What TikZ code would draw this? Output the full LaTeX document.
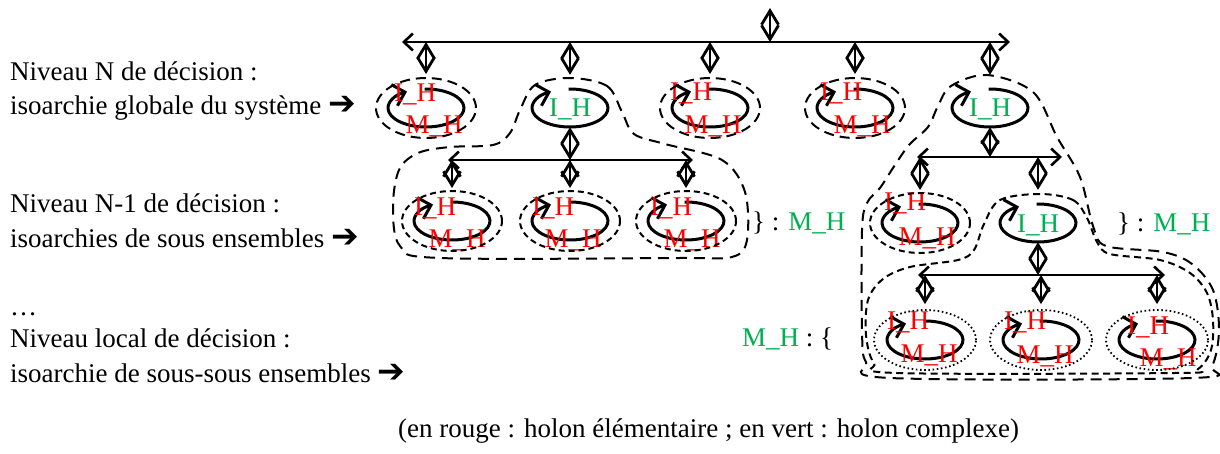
\documentclass[tikz,border=0pt]{standalone}
\usepackage{fontspec}
\setmainfont{Liberation Serif}
\newfontfamily\symfont{DejaVu Sans}
\usetikzlibrary{arrows.meta,calc,shapes.geometric}
\definecolor{hred}{RGB}{255,0,0}
\definecolor{hgreen}{RGB}{0,176,80}
\tikzset{
  lbl/.style={font=\fontsize{27}{34}\selectfont, inner sep=0pt},
  redlbl/.style={lbl, text=hred},
  greenlbl/.style={lbl, text=hgreen},
  loopline/.style={line width=3pt, -{Straight Barb[length=11pt,width=22pt]}},
  busline/.style={line width=2.6pt, {Straight Barb[length=9pt,width=17pt]}-{Straight Barb[length=9pt,width=17pt]}},
  dblarrow/.style={line width=2.8pt, {Straight Barb[length=14pt,width=17pt]}-{Straight Barb[length=14pt,width=17pt]}},
  holcore/.style={ellipse, minimum width=76pt, minimum height=38pt, inner sep=0pt},
  ringA/.style={ellipse, draw, line width=2pt, dash pattern=on 10pt off 6pt, minimum width=100pt, minimum height=60pt, inner sep=0pt},
  ringB/.style={ellipse, draw, line width=2pt, dash pattern=on 6pt off 4pt, minimum width=100pt, minimum height=60pt, inner sep=0pt},
  ringC/.style={ellipse, draw, line width=1.8pt, dash pattern=on 1.6pt off 2.6pt, minimum width=102pt, minimum height=60pt, inner sep=0pt},
  blobA/.style={line width=2pt, dash pattern=on 11pt off 7pt},
  blobB/.style={line width=2pt, dash pattern=on 7pt off 4.5pt},
}
% red holon: name, position, I_H offset, M_H offset
\newcommand\holR[4]{%
  \node[holcore] (#1) at (#2) {};
  \draw[loopline] ($(#1.center)+(268:38 and 19)$) arc[start angle=268, end angle=600, x radius=38, y radius=19];
  \node[redlbl] (#1i) at ($(#1.center)+(#3)$) {I\_H};
  \node[redlbl] (#1m) at ($(#1.center)+(#4)$) {M\_H};
}
% green holon: name, position, I_H offset
\newcommand\holG[3]{%
  \node[holcore] (#1) at (#2) {};
  \draw[loopline] ($(#1.center)+(268:38 and 19)$) arc[start angle=268, end angle=600, x radius=38, y radius=19];
  \node[greenlbl] (#1i) at ($(#1.center)+(#3)$) {I\_H};
}
\newcommand\bigarrow{{\symfont\fontsize{33}{34}\selectfont ➔}}
\begin{document}
\begin{tikzpicture}[x=1pt,y=-1pt]
\useasboundingbox (0,0) rectangle (1220,454);

% ---------- left texts ----------
\node[lbl, anchor=base west] (t1a) at (10,81) {Niveau N de décision :};
\node[lbl, anchor=base west] (t1b) at (10,115) {isoarchie globale du système \bigarrow};
\node[lbl, anchor=base west] (t2a) at (10,213) {Niveau N-1 de décision :};
\node[lbl, anchor=base west] (t2b) at (10,248) {isoarchies de sous ensembles \bigarrow};
\node[lbl, anchor=base west] (tdots) at (10,315) {…};
\node[lbl, anchor=base west] (t3a) at (10,347) {Niveau local de décision :};
\node[lbl, anchor=base west] (t3b) at (10,382) {isoarchie de sous-sous ensembles \bigarrow};
\node[lbl, anchor=base west] (cap) at (398,437) {(en rouge : holon élémentaire ; en vert : holon complexe)};

% ---------- blobs ----------
\draw[blobA] plot[smooth cycle, tension=0.55] coordinates {
  (570,78) (607,86) (622,112) (634,134) (665,144) (722,160) (745,192) (747,240)
  (732,257) (680,258) (440,258) (400,246) (393,207) (399,170) (418,153) (450,147)
  (493,145) (510,133) (520,110) (535,85)};
\draw[blobA] plot[smooth cycle, tension=0.55] coordinates {
  (987,75) (1033,92) (1057,137) (1080,177) (1093,226) (1106,246) (1163,252)
  (1192,264) (1213,290) (1219,330) (1212,366) (1192,378) (890,378) (866,362)
  (862,330) (862,230) (867,203) (880,188) (893,168) (909,145) (928,127)
  (938,106) (951,86)};
\draw[blobB] plot[smooth cycle, tension=0.55] coordinates {
  (1040,194) (1073,200) (1087,218) (1097,242) (1110,254) (1160,260) (1190,273)
  (1207,293) (1213,320) (1211,350) (1198,369) (1175,373) (897,373) (874,363)
  (866,335) (868,300) (883,279) (910,267) (958,260) (974,250) (984,224) (1000,200)};

% ---------- level N ----------
\holR{h1}{426,108}{-11,-14}{8,18}
\holG{h2}{570,108}{0,1}
\holR{h3}{710,108}{-19,-15}{3,18}
\holR{h4}{855,108}{-14,-15}{7,18}
\holG{h5}{990,108}{0,1}
\node[ringA] (h1r) at (h1) {};
\node[ringA] (h3r) at (h3) {};
\node[ringA] (h4r) at (h4) {};

\coordinate (top) at (770,8);
\coordinate (busNl) at (402,42);
\coordinate (busNr) at (1010,42);
\draw[busline] (busNl) -- (busNr);
\draw[dblarrow] (top) -- (top |- busNl);
\draw[dblarrow] (h1 |- busNl) -- ($(h1r.north)+(0,-3)$);
\draw[dblarrow] (h2 |- busNl) -- ($(h2.north)+(0,-14)$);
\draw[dblarrow] (h3 |- busNl) -- ($(h3r.north)+(0,-3)$);
\draw[dblarrow] (h4 |- busNl) -- ($(h4r.north)+(0,-3)$);
\draw[dblarrow] (h5 |- busNl) -- ($(h5.north)+(0,-14)$);

% ---------- level N-1, left ----------
\holR{n1}{452,221}{-17,-13}{5,19}
\holR{n2}{570,221}{-17,-13}{3,19}
\holR{n3}{686,221}{-15,-13}{6,19}
\node[ringB] (n1r) at (n1) {};
\node[ringB] (n2r) at (n2) {};
\node[ringB] (n3r) at (n3) {};
\coordinate (busLl) at (448,160);
\coordinate (busLr) at (693,160);
\draw[busline] (busLl) -- (busLr);
\draw[dblarrow] (h2.south) -- (h2 |- busLl);
\draw[dblarrow] (n1 |- busLl) -- ($(n1r.north)+(0,-2)$);
\draw[dblarrow] (n2 |- busLl) -- ($(n2r.north)+(0,-2)$);
\draw[dblarrow] (n3 |- busLl) -- ($(n3r.north)+(0,-2)$);
\node[lbl, anchor=base west] (mh1) at (752,231) {\} : \textcolor{hgreen}{M\_H}};

% ---------- level N-1, right ----------
\holR{a}{920,223}{-15,-20}{7,15}
\holG{b}{1038,223}{0,2}
\node[ringB] (ar) at (a) {};
\coordinate (busRl) at (917,157);
\coordinate (busRr) at (1062,157);
\draw[busline] (busRl) -- (busRr);
\draw[dblarrow] (h5.south) -- (h5 |- busRl);
\draw[dblarrow] (a |- busRl) -- ($(ar.north)+(0,-2)$);
\draw[dblarrow] (b |- busRl) -- ($(b.north)+(0,-14)$);
\node[lbl, anchor=base west] (mh2) at (1117,232) {\} : \textcolor{hgreen}{M\_H}};

% ---------- local level ----------
\holR{l1}{925,340}{-17,-18}{4,15}
\holR{l2}{1041,340}{-16,-18}{4,16}
\holR{l3}{1157,340}{-9,-13}{11,19}
\node[ringC] (l1r) at (l1) {};
\node[ringC] (l2r) at (l2) {};
\node[ringC] (l3r) at (l3) {};
\coordinate (busBl) at (918,275);
\coordinate (busBr) at (1165,275);
\draw[busline] (busBl) -- (busBr);
\draw[dblarrow] (b.south) -- (b |- busBl);
\draw[dblarrow] (l1 |- busBl) -- ($(l1r.north)+(0,-5)$);
\draw[dblarrow] (l2 |- busBl) -- ($(l2r.north)+(0,-5)$);
\draw[dblarrow] (l3 |- busBl) -- ($(l3r.north)+(0,-5)$);
\node[lbl, anchor=base west] (mh3) at (742,346) {\textcolor{hgreen}{M\_H} : \{};
\end{tikzpicture}
\end{document}
